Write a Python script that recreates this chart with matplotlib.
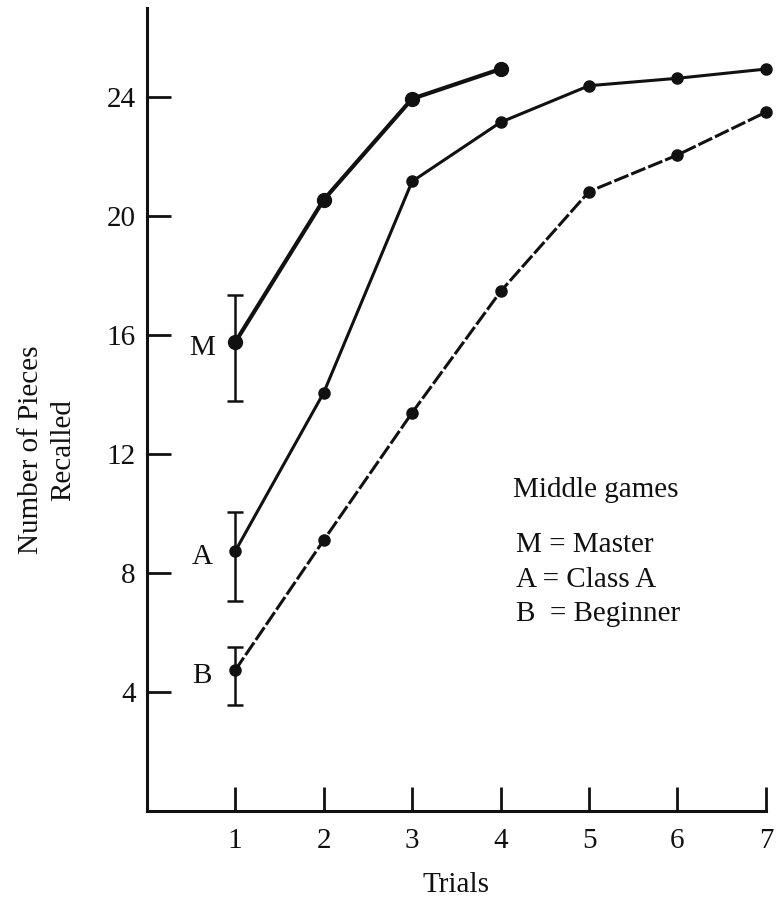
import numpy as np
import matplotlib.pyplot as plt

plt.rcParams['font.family'] = ['Liberation Serif', 'DejaVu Serif']

# 数据：每组的试次与平均回忆数量
trials = [1, 2, 3, 4, 5, 6, 7]
master = [15.76, 20.55, 23.95, 24.95]
class_a = [8.73, 14.06, 21.17, 23.16, 24.39, 24.64, 24.95]
beginner = [4.73, 9.1, 13.39, 17.47, 20.83, 22.06, 23.5]

# 第1次试验的误差线（上下端）
err_low = [13.78, 7.06, 3.55]
err_high = [17.36, 10.05, 5.51]
group_letters = ['M', 'A', 'B']

legend_title = 'Middle games'
legend_lines = ['M = Master', 'A = Class A', 'B  = Beginner']

ink = '#111111'
fs = 21

fig = plt.figure(figsize=(7.77, 9.0), dpi=100)
ax = fig.add_axes([0.1888, 0.099, 0.797, 0.892])

ax.plot(trials[:len(master)], master, color=ink, lw=3.0, marker='o', ms=10, clip_on=False, zorder=3)
ax.plot(trials, class_a, color=ink, lw=2.2, marker='o', ms=8, clip_on=False, zorder=3)
ax.plot(trials, beginner, color=ink, lw=2.2, ls=(0, (5, 1)), marker='o', ms=8, clip_on=False, zorder=3)

# 误差线
first = [master[0], class_a[0], beginner[0]]
for y0, lo, hi, lab in zip(first, err_low, err_high, group_letters):
    ax.errorbar([1], [y0], yerr=[[y0 - lo], [hi - y0]], fmt='none', ecolor=ink,
                elinewidth=1.8, capsize=6, capthick=1.8, zorder=2)
    ax.annotate(lab, (1, y0), xytext=(-24, -4), textcoords='offset points',
                ha='center', va='center', fontsize=fs, color=ink)

# 图例文字
ax.text(4.14, 10.78, legend_title, fontsize=fs, color=ink, va='center', ha='left')
for i, s in enumerate(legend_lines):
    ax.text(4.18, 8.93 - i * 1.15, s, fontsize=fs, color=ink, va='center', ha='left')

ax.set_xlim(0, 7)
ax.set_ylim(0, 27)
ax.set_xticks(trials)
ax.set_yticks([4, 8, 12, 16, 20, 24])
ax.spines['top'].set_visible(False)
ax.spines['right'].set_visible(False)
for sp in ['left', 'bottom']:
    ax.spines[sp].set_linewidth(2.2)
    ax.spines[sp].set_color(ink)
ax.tick_params(direction='in', length=17, width=2, colors=ink, labelsize=fs)
ax.tick_params(axis='x', pad=12)
ax.tick_params(axis='y', pad=8)

ax.set_xlabel('Trials', fontsize=fs, color=ink, labelpad=13)
ax.set_ylabel('Number of Pieces\nRecalled', fontsize=fs, color=ink, va='center', linespacing=1.3)
ax.yaxis.set_label_coords(-0.161, 0.45)

fig.savefig('out.png', dpi=100)
